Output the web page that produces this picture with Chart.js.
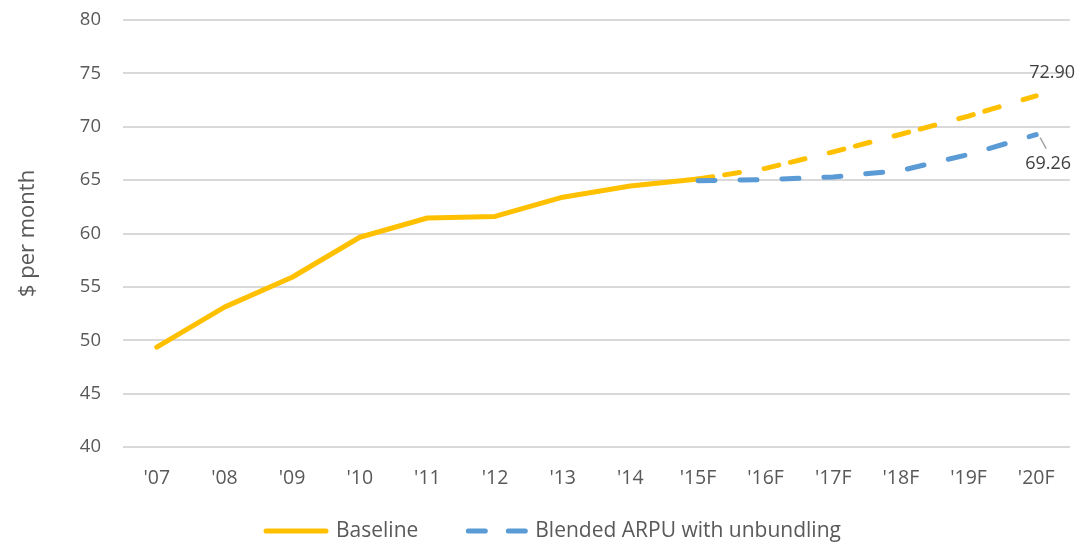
<!DOCTYPE html>
<html>
<head>
<meta charset="utf-8">
<script src="https://cdn.jsdelivr.net/npm/chart.js@4/dist/chart.umd.min.js"></script>
<style>
  html, body { margin: 0; padding: 0; background: #fff; }
  #wrap { width: 1078px; height: 542px; }
</style>
</head>
<body>
<div id="wrap"><canvas id="arpu" width="1078" height="542"></canvas></div>
<script>
// data
var years = ["'07", "'08", "'09", "'10", "'11", "'12", "'13", "'14", "'15F", "'16F", "'17F", "'18F", "'19F", "'20F"];
var baseline = [49.35, 53.1, 55.9, 59.65, 61.45, 61.6, 63.4, 64.45, 65.1, 66.1, 67.65, 69.3, 71.0, 72.9];
var blended = [null, null, null, null, null, null, null, null, 64.95, 65.05, 65.3, 65.9, 67.4, 69.26];
var yTicks = [40, 45, 50, 55, 60, 65, 70, 75, 80];
var firstForecast = 8;

var yellow = "#ffc000";
var blue = "#5b9bd5";
var textGrey = "#595959";
var font = "'Open Sans', sans-serif";

Chart.defaults.font.family = font;
Chart.defaults.color = textGrey;

// end-of-line value labels
var endLabels = {
    id: "endLabels",
    afterDatasetsDraw: function(chart) {
        var ctx = chart.ctx;
        var p0 = chart.getDatasetMeta(0).data[baseline.length - 1];
        var p1 = chart.getDatasetMeta(1).data[blended.length - 1];
        ctx.save();
        ctx.font = "18px " + font;
        ctx.fillStyle = "#404040";
        ctx.textAlign = "center";
        ctx.textBaseline = "middle";
        ctx.fillText(baseline[baseline.length - 1].toFixed(2), p0.x + 16, p0.y - 23);
        ctx.strokeStyle = "#a6a6a6";
        ctx.lineWidth = 1.5;
        ctx.beginPath();
        ctx.moveTo(p1.x + 4, p1.y + 3);
        ctx.lineTo(p1.x + 10, p1.y + 14);
        ctx.stroke();
        ctx.fillText(blended[blended.length - 1].toFixed(2), p1.x + 12, p1.y + 29);
        ctx.restore();
    }
};

// bottom legend, drawn by hand so the key lines and gaps match
var bottomLegend = {
    id: "bottomLegend",
    afterDraw: function(chart) {
        var ctx = chart.ctx;
        var dashes = [[], [17, 23]];
        var x = 264, y = 531, keyW = 64;
        ctx.save();
        ctx.font = "21px " + font;
        ctx.textBaseline = "middle";
        chart.data.datasets.forEach(function(ds, i) {
            ctx.strokeStyle = ds.borderColor;
            ctx.lineWidth = 5;
            ctx.lineCap = "round";
            ctx.setLineDash(dashes[i]);
            ctx.beginPath();
            ctx.moveTo(x + keyW - 2, y);
            ctx.lineTo(x + 2, y);
            ctx.stroke();
            ctx.setLineDash([]);
            ctx.fillStyle = textGrey;
            ctx.fillText(ds.label, x + keyW + 8, y);
            x += keyW + 8 + ctx.measureText(ds.label).width + 45;
        });
        ctx.restore();
    }
};

var ctx = document.getElementById("arpu");
var chart = new Chart(ctx, {
    type: "line",
    data: {
        labels: years,
        datasets: [{
            label: "Baseline",
            data: baseline,
            borderColor: yellow,
            backgroundColor: yellow,
            borderWidth: 5,
            borderCapStyle: "round",
            borderJoinStyle: "round",
            pointRadius: 0,
            tension: 0,
            order: 1,
            segment: {
                borderDash: function(c) { return c.p0DataIndex >= firstForecast ? [15, 12, 15, 25] : undefined; }
            }
        }, {
            label: "Blended ARPU with unbundling",
            data: blended,
            borderColor: blue,
            backgroundColor: blue,
            borderWidth: 5,
            borderCapStyle: "round",
            borderDash: [17, 25],
            pointRadius: 0,
            tension: 0,
            order: 0
        }]
    },
    options: {
        responsive: false,
        animation: false,
        layout: { padding: { top: 0, right: 8, left: 0, bottom: 0 } },
        plugins: {
            tooltip: { enabled: false },
            legend: { display: false }
        },
        scales: {
            x: {
                offset: true,
                afterFit: function(s) { s.height = 95; },
                grid: { display: false },
                border: { display: false },
                ticks: { padding: 12, font: { size: 19.5 }, color: textGrey }
            },
            y: {
                min: 40,
                max: 80,
                afterFit: function(s) { s.width = 123; s.paddingTop = 20; s.paddingBottom = 0; },
                afterBuildTicks: function(s) { s.ticks = yTicks.map(function(v) { return { value: v }; }); },
                grid: { color: "#d9d9d9", lineWidth: 2, drawTicks: false },
                border: { display: false },
                ticks: { padding: 22, font: { size: 18.5 }, color: textGrey },
                title: { display: true, text: "$ per month", font: { size: 22 }, color: textGrey, padding: { top: 15, bottom: 0 } }
            }
        }
    },
    plugins: [endLabels, bottomLegend]
});
</script>
</body>
</html>
